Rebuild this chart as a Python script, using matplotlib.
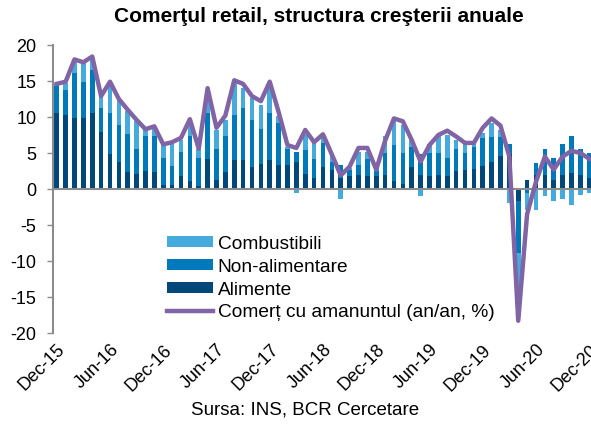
import numpy as np
import matplotlib
matplotlib.use("Agg")
from matplotlib import pyplot as plt

# date lunare Dec-15 ... Dec-20
alimente = [10.6, 10.3, 9.9, 9.8, 10.5, 7.9, 4.9, 3.8, 2.3, 2.1, 2.5, 2.4, 0.5, 0.6, 1.75, 1.1,
            0.4, 4.1, 1.3, 2.3, 4.0, 4.0, 3.1, 3.5, 4.0, 3.4, 3.4, 3.8, 2.1, 1.5, 3.0, 2.6,
            1.5, 1.75, 2.0, 1.75, 1.85, 2.0, 1.05, 0.7, 3.1, 2.0, 1.75, 2.0, 1.85, 2.45, 2.6, 2.8,
            3.2, 3.7, 4.6, 4.8, -1.7, 1.3, 2.0, 2.0, 1.3, 2.0, 2.2, 2.0, 1.5]
non_alimentare = [3.7, 3.5, 6.2, 5.0, 6.0, 3.4, 5.7, 5.1, 5.4, 3.5, 4.8, 4.9, 3.8, 2.6, 3.35, 6.2,
                  3.9, 6.5, 4.2, 5.0, 6.3, 7.2, 6.5, 4.8, 6.6, 5.8, 2.1, 1.4, 3.3, 2.6, 3.4, 1.2,
                  1.9, 0.85, 1.4, 2.35, 0.6, 3.0, 5.1, 4.3, 2.8, 2.8, 3.25, 3.0, 2.45, 3.05, 2.4, 3.0,
                  3.9, 3.5, 2.6, 1.5, -7.2, -0.5, 1.6, 3.5, 3.0, 4.2, 5.2, 3.6, 3.5]
combustibili = [0.3, 0.9, 1.9, 2.7, 1.7, 1.6, 4.3, 3.5, 3.1, 3.9, 0.9, 1.2, 2.1, 3.1, 1.7, 2.1,
                1.2, 3.2, 2.7, 2.3, 4.6, 2.8, 3.0, 3.4, 3.9, 0.9, 0.4, -0.55, 2.1, 2.6, 0.7, 1.0,
                -1.4, 0.3, 1.7, 1.1, 0.45, 2.3, 3.25, 3.9, 0.9, -1.0, 1.2, 2.3, 3.2, 1.3, 1.2, 0.4,
                0.7, 2.0, 1.0, -1.9, -8.8, -2.4, -2.9, -1.0, -1.6, -1.4, -2.2, -0.8, -0.5]
comert = [14.6, 14.9, 18.0, 17.6, 18.4, 12.9, 14.9, 12.5, 11.0, 9.6, 8.3, 8.7, 6.2, 6.5, 7.1, 9.7,
          5.6, 14.0, 8.5, 10.2, 15.1, 14.6, 12.9, 12.2, 14.9, 10.7, 6.1, 5.7, 8.2, 6.5, 7.6, 4.8,
          1.9, 3.1, 5.7, 5.7, 2.7, 6.7, 9.8, 9.4, 6.8, 3.8, 6.1, 7.5, 8.1, 7.3, 6.4, 6.4,
          8.5, 9.8, 8.8, 4.5, -18.3, -3.5, 1.0, 4.5, 2.7, 4.5, 5.3, 5.0, 4.2]
etichete = ['Dec-15', 'Jun-16', 'Dec-16', 'Jun-17', 'Dec-17', 'Jun-18',
            'Dec-18', 'Jun-19', 'Dec-19', 'Jun-20', 'Dec-20']

plt.rcParams['font.family'] = ['Liberation Sans', 'DejaVu Sans']
plt.rcParams['axes.unicode_minus'] = False

x = np.arange(len(comert))
fig = plt.figure(figsize=(5.91, 4.36), dpi=100)
ax = fig.add_axes([53/591, 1 - 333/436, 1 - 53/591, 288/436])

# stivuire separata pentru valori pozitive si negative
poz = np.zeros(len(x))
neg = np.zeros(len(x))
serii = [(alimente, '#00487A', 'Alimente'),
         (non_alimentare, '#0079BA', 'Non-alimentare'),
         (combustibili, '#45AADC', 'Combustibili')]
bare = {}
for valori, culoare, nume in serii:
    v = np.array(valori)
    baza = np.where(v >= 0, poz, neg)
    bare[nume] = ax.bar(x, v, 0.52, bottom=baza, color=culoare, label=nume, zorder=2)
    poz = poz + np.where(v >= 0, v, 0)
    neg = neg + np.where(v < 0, v, 0)

linie, = ax.plot(x, comert, color='#8064A5', lw=3.2, zorder=4,
                 label='Comerț cu amanuntul (an/an, %)')
ax.axhline(0, color='#8C8C8C', lw=1.5, zorder=3)

ax.set_xlim(-0.42, 60.2)
ax.set_ylim(-20, 20)
ax.set_yticks(range(-20, 21, 5))
ax.set_xticks(range(0, 61, 6))
ax.set_xticklabels(etichete, rotation=45, ha='right', va='top', rotation_mode='anchor')
ax.tick_params(axis='x', length=0, pad=6, labelsize=13)
ax.tick_params(axis='y', length=4, width=1, color='#8C8C8C', pad=8, labelsize=13)
for s in ['top', 'right', 'bottom']:
    ax.spines[s].set_visible(False)
ax.spines['left'].set_color('#8C8C8C')
ax.spines['left'].set_linewidth(1.5)

ax.legend([bare['Combustibili'], bare['Non-alimentare'], bare['Alimente'], linie],
          ['Combustibili', 'Non-alimentare', 'Alimente', 'Comerț cu amanuntul (an/an, %)'],
          loc='upper left', bbox_to_anchor=(0.212, 0.338), frameon=False, fontsize=13.8,
          borderpad=0, borderaxespad=0, handlelength=2.4, handleheight=0.5,
          handletextpad=0.25, labelspacing=0.31)

fig.text(0.54, 0.962, 'Comerţul retail, structura creşterii anuale', ha='center', va='center',
         fontsize=15, fontweight='bold')
fig.text(0.517, 0.06, 'Sursa: INS, BCR Cercetare', ha='center', va='center', fontsize=13.5)

fig.savefig('out.png', dpi=100)
